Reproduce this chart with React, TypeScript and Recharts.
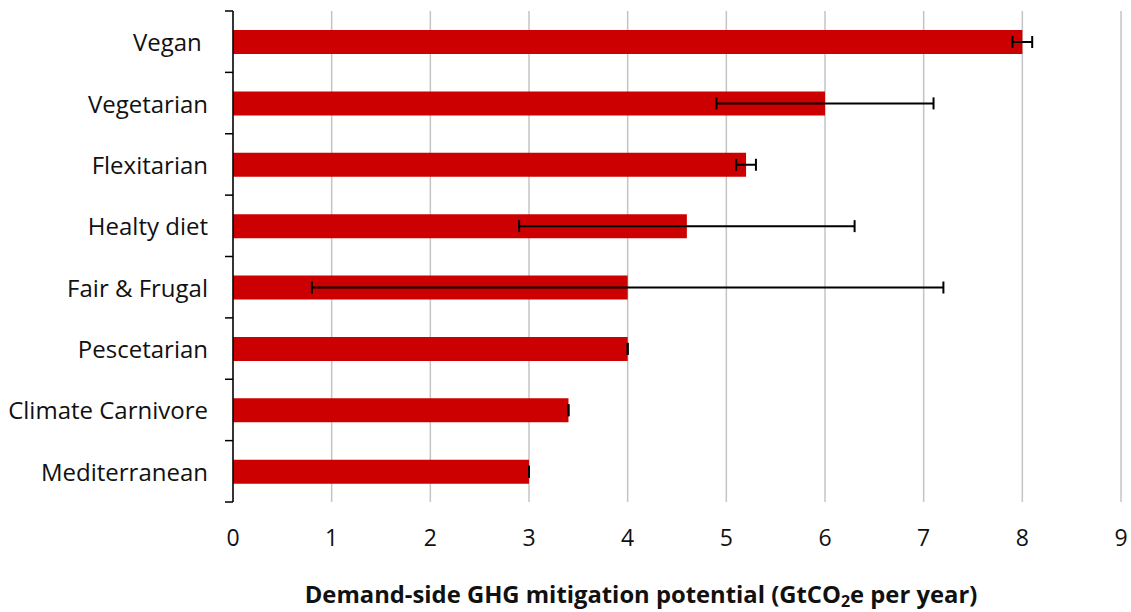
import React from "react";
import { BarChart, Bar, XAxis, YAxis, CartesianGrid, ErrorBar } from "recharts";

const categories = [
  "Vegan ",
  "Vegetarian",
  "Flexitarian",
  "Healty diet",
  "Fair & Frugal",
  "Pescetarian",
  "Climate Carnivore",
  "Mediterranean",
];
const values = [8.0, 6.0, 5.2, 4.6, 4.0, 4.0, 3.4, 3.0];
const lowValues = [7.9, 4.9, 5.1, 2.9, 0.8, 4.0, 3.4, 3.0];
const highValues = [8.1, 7.1, 5.3, 6.3, 7.2, 4.0, 3.4, 3.0];
const xTicks = [0, 1, 2, 3, 4, 5, 6, 7, 8, 9];

const data = categories.map((c, i) => ({
  name: c,
  value: values[i],
  err: [values[i] - lowValues[i], highValues[i] - values[i]],
}));

const W = 1131;
const H = 612;
const TOP = 11;
const BOTTOM = 110;
const BAND = (H - TOP - BOTTOM) / categories.length;
const FONT = "'Open Sans', 'Noto Sans', sans-serif";

const YTick = (props: any) => {
  const { x, y, payload, index } = props;
  return (
    <g>
      <line x1={x - 8} x2={x} y1={y - BAND / 2} y2={y - BAND / 2} stroke="#000" strokeWidth={1.5} />
      {index === categories.length - 1 && (
        <line x1={x - 8} x2={x} y1={y + BAND / 2} y2={y + BAND / 2} stroke="#000" strokeWidth={1.5} />
      )}
      <text
        x={x - 25}
        y={y}
        textAnchor="end"
        dominantBaseline="central"
        fontSize={24}
        fontFamily={FONT}
        fill="#111"
        style={{ whiteSpace: "pre" }}
      >
        {payload.value}
      </text>
    </g>
  );
};

const XTick = (props: any) => {
  const { x, y, payload } = props;
  return (
    <text x={x} y={y + 44} textAnchor="middle" fontSize={23} fontFamily={FONT} fill="#111">
      {payload.value}
    </text>
  );
};

const TitleLabel = (props: any) => {
  const vb = props.viewBox || {};
  const cx = (vb.x ?? 233) + (vb.width ?? 888) / 2 - 36;
  const baseY = (vb.y ?? 502) + 101;
  return (
    <text x={cx} y={baseY} textAnchor="middle" fontSize={23.8} fontWeight="bold" fontFamily={FONT} fill="#111">
      <tspan>Demand-side GHG mitigation potential (GtCO</tspan>
      <tspan fontSize={16} dy={4}>2</tspan>
      <tspan dy={-4}>e per year)</tspan>
    </text>
  );
};

export default function App() {
  return (
    <div style={{ position: "absolute", left: 0, top: 0, background: "#fff" }}>
      <BarChart
        width={W}
        height={H}
        data={data}
        layout="vertical"
        margin={{ top: TOP, right: 10, bottom: 0, left: 0 }}
      >
        <CartesianGrid horizontal={false} vertical={true} stroke="#c4c4c4" strokeWidth={1.5} />
        <XAxis
          type="number"
          domain={[0, 9]}
          ticks={xTicks}
          axisLine={false}
          tickLine={false}
          tickSize={0}
          tickMargin={0}
          tick={<XTick />}
          height={BOTTOM}
          label={<TitleLabel />}
          interval={0}
        />
        <YAxis
          type="category"
          dataKey="name"
          width={233}
          axisLine={{ stroke: "#000", strokeWidth: 1.5 }}
          tickLine={false}
          tickSize={0}
          tickMargin={0}
          tick={<YTick />}
          interval={0}
        />
        <Bar dataKey="value" fill="#cc0000" barSize={24} isAnimationActive={false}>
          <ErrorBar dataKey="err" direction="x" width={6} stroke="#000" strokeWidth={2} isAnimationActive={false} />
        </Bar>
      </BarChart>
    </div>
  );
}
